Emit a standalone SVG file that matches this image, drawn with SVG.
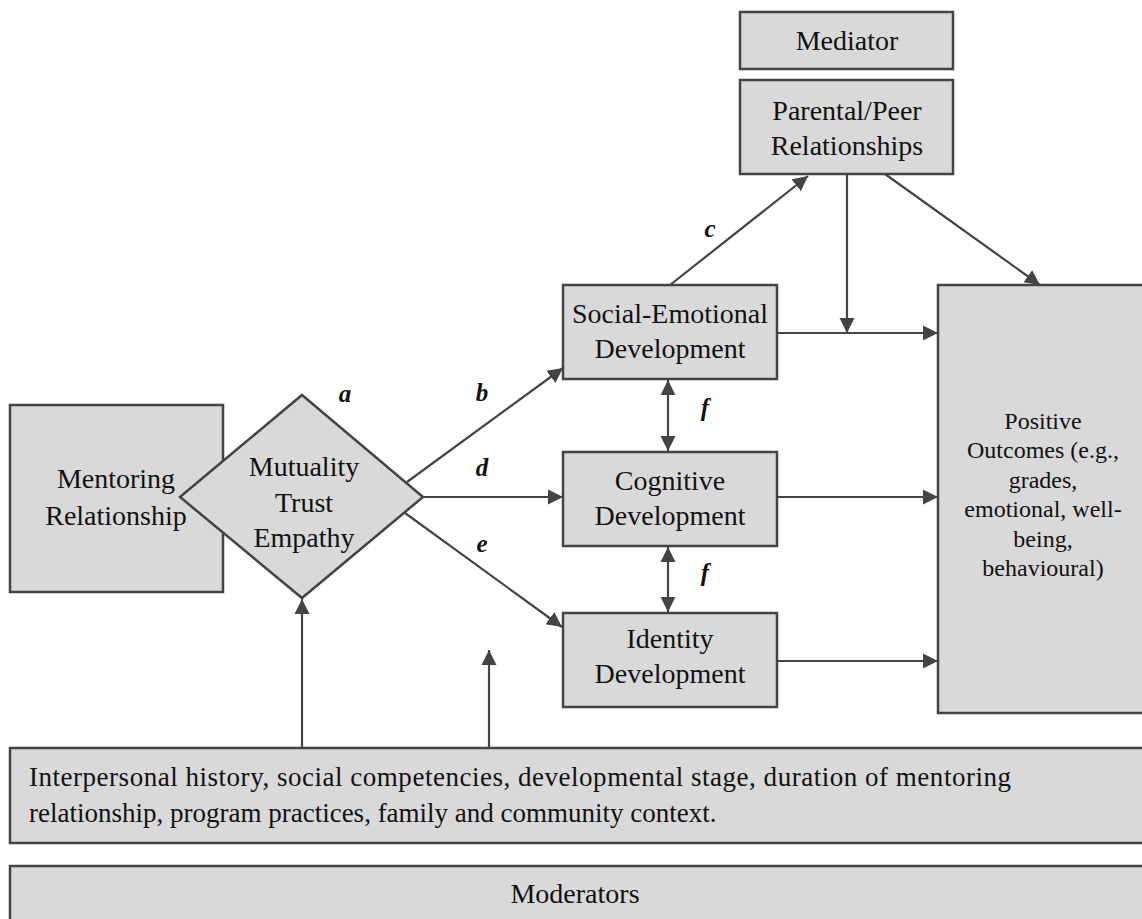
<svg xmlns="http://www.w3.org/2000/svg" width="1142" height="919" viewBox="0 0 1142 919">
<style>
.box{fill:#d9d9d9;stroke:#444;stroke-width:2.5}
.t{font-family:"Liberation Serif","Times New Roman",serif;font-size:28px;fill:#111;text-anchor:middle;dominant-baseline:central}
.tp{font-family:"Liberation Serif","Times New Roman",serif;font-size:24px;fill:#111;text-anchor:middle;dominant-baseline:central}
.tl{font-family:"Liberation Serif","Times New Roman",serif;font-size:27px;fill:#111;dominant-baseline:central}
.lab{font-family:"Liberation Serif","Times New Roman",serif;font-size:25px;font-weight:bold;font-style:italic;fill:#111;text-anchor:middle;dominant-baseline:central}
.c{stroke:#444;stroke-width:2.2;fill:none}
</style>
<defs>
<marker id="ah" markerUnits="userSpaceOnUse" markerWidth="16" markerHeight="16" refX="15" refY="8" orient="auto">
<path d="M0,0.5 L15,8 L0,15.5 Z" fill="#444"/>
</marker>
<marker id="as" markerUnits="userSpaceOnUse" markerWidth="16" markerHeight="16" refX="0" refY="8" orient="auto">
<path d="M15,0.5 L0,8 L15,15.5 Z" fill="#444"/>
</marker>
</defs>

<g id="mentoring">
<rect class="box" x="10" y="405" width="213" height="187"/>
</g>
<g id="mutuality">
<polygon class="box" points="302,395 423,497 302,598 180,497"/>
<text class="t" x="304" y="466">Mutuality</text>
<text class="t" x="304" y="502">Trust</text>
<text class="t" x="304" y="537">Empathy</text>
</g>
<g id="mentoring-label">
<text class="t" x="116" y="478">Mentoring</text>
<text class="t" x="116" y="515">Relationship</text>
</g>

<g id="mediator">
<rect class="box" x="740" y="12" width="213" height="57"/>
<text class="t" x="847" y="40">Mediator</text>
</g>
<g id="parental">
<rect class="box" x="740" y="80" width="213" height="94"/>
<text class="t" x="847" y="110">Parental/Peer</text>
<text class="t" x="847" y="145">Relationships</text>
</g>
<g id="social">
<rect class="box" x="563" y="285" width="214" height="94"/>
<text class="t" x="670" y="313">Social-Emotional</text>
<text class="t" x="670" y="348">Development</text>
</g>
<g id="cognitive">
<rect class="box" x="563" y="452" width="214" height="94"/>
<text class="t" x="670" y="480">Cognitive</text>
<text class="t" x="670" y="515">Development</text>
</g>
<g id="identity">
<rect class="box" x="563" y="613" width="214" height="94"/>
<text class="t" x="670" y="638">Identity</text>
<text class="t" x="670" y="673">Development</text>
</g>
<g id="outcomes">
<rect class="box" x="938" y="285" width="215" height="428"/>
<text class="tp" x="1043" y="421">Positive</text>
<text class="tp" x="1043" y="450">Outcomes (e.g.,</text>
<text class="tp" x="1043" y="480">grades,</text>
<text class="tp" x="1043" y="509">emotional, well-</text>
<text class="tp" x="1043" y="539">being,</text>
<text class="tp" x="1043" y="568">behavioural)</text>
</g>
<g id="context">
<rect class="box" x="10" y="748" width="1145" height="95"/>
<text class="tl" x="29" y="777" textLength="982" lengthAdjust="spacing">Interpersonal history, social competencies, developmental stage, duration of mentoring</text>
<text class="tl" x="29" y="813">relationship, program practices, family and community context.</text>
</g>
<g id="moderators">
<rect class="box" x="10" y="866" width="1145" height="70"/>
<text class="t" x="575" y="893">Moderators</text>
</g>

<g id="connectors">
<line class="c" x1="302" y1="748" x2="302" y2="599" marker-end="url(#ah)"/>
<line class="c" x1="489" y1="748" x2="489" y2="650" marker-end="url(#ah)"/>
<line class="c" x1="407" y1="482" x2="563" y2="368" marker-end="url(#ah)"/>
<line class="c" x1="423" y1="497" x2="563" y2="497" marker-end="url(#ah)"/>
<line class="c" x1="405" y1="513" x2="562" y2="627" marker-end="url(#ah)"/>
<line class="c" x1="670" y1="285" x2="808" y2="176" marker-end="url(#ah)"/>
<line class="c" x1="847" y1="174" x2="847" y2="333" marker-end="url(#ah)"/>
<line class="c" x1="777" y1="333" x2="938" y2="333" marker-end="url(#ah)"/>
<line class="c" x1="885" y1="174" x2="1040" y2="285" marker-end="url(#ah)"/>
<line class="c" x1="777" y1="497" x2="938" y2="497" marker-end="url(#ah)"/>
<line class="c" x1="777" y1="661" x2="938" y2="661" marker-end="url(#ah)"/>
<line class="c" x1="668" y1="380" x2="668" y2="451" marker-start="url(#as)" marker-end="url(#ah)"/>
<line class="c" x1="668" y1="547" x2="668" y2="612" marker-start="url(#as)" marker-end="url(#ah)"/>
</g>

<g id="labels">
<text class="lab" x="345" y="393">a</text>
<text class="lab" x="482" y="392">b</text>
<text class="lab" x="710" y="228">c</text>
<text class="lab" x="482" y="467">d</text>
<text class="lab" x="482" y="543">e</text>
<text class="lab" x="705" y="407">f</text>
<text class="lab" x="705" y="572">f</text>
</g>
</svg>
